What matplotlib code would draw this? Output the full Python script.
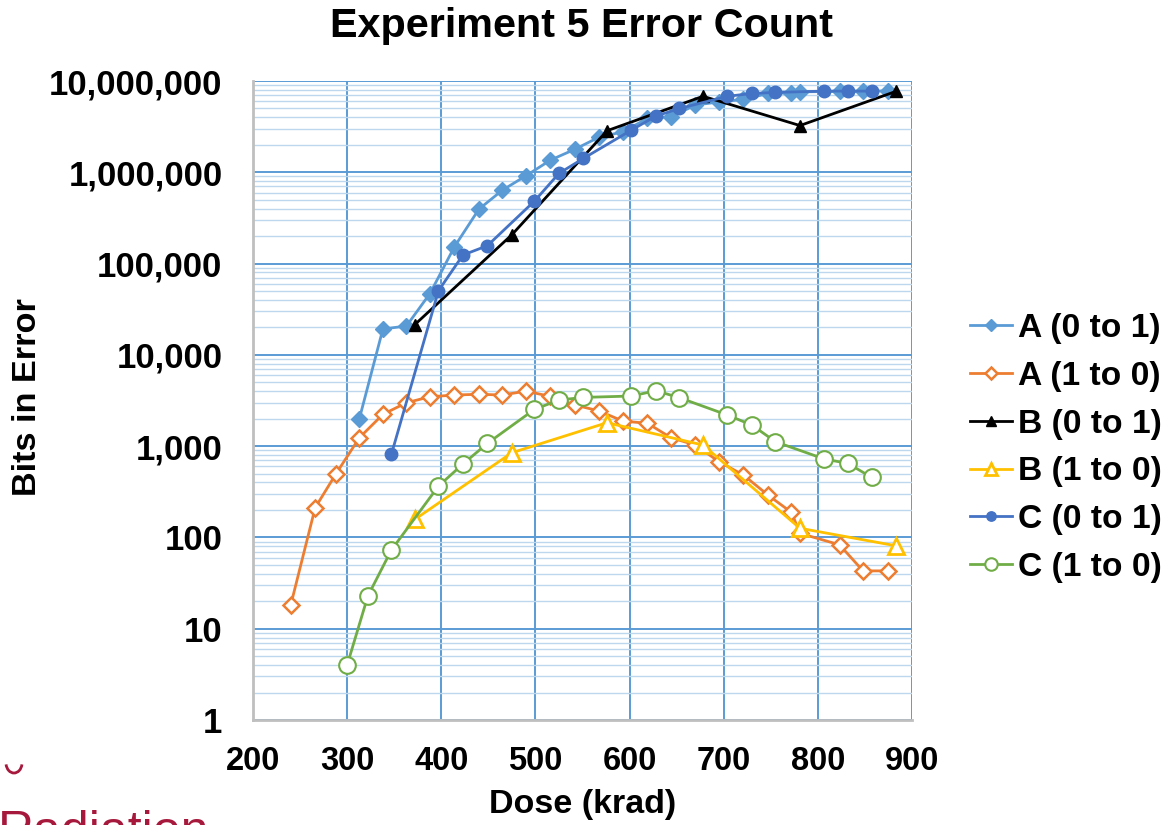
import matplotlib
matplotlib.use("Agg")
import matplotlib.pyplot as plt
from matplotlib.ticker import FixedLocator, LogLocator, NullFormatter
from matplotlib.patches import Arc

# ---------------- data ----------------
A_dose = [240, 266, 288, 313, 338, 363, 388, 414, 440, 465, 490, 516, 542,
          567, 593, 619, 644, 670, 695, 721, 747, 772, 781, 823, 848, 874]
A_01 = [2000, 19200, 20700, 47000, 153000, 395000, 638000, 916000, 1360000,
        1790000, 2410000, 2780000, 3890000, 4060000, 5450000, 5900000, 6280000,
        7300000, 7400000, 7600000, 7700000, 7700000, 7800000]   # from 313 krad
A_10 = [18, 211, 495, 1236, 2230, 2990, 3476, 3630, 3700, 3630, 4010, 3500,
        2820, 2440, 1880, 1780, 1236, 1028, 675, 482, 291, 188, 111, 83, 43, 43]

B_dose = [372, 475, 576, 678, 781, 883]
B_01 = [21500, 207000, 2850000, 6800000, 3250000, 7700000]
B_10 = [158, 847, 1806, 1028, 126, 81]

C_dose = [300, 322, 347, 397, 423, 449, 499, 525, 551, 602, 628, 653, 704,
          730, 755, 807, 832, 857]
C_01 = [813, 50400, 124000, 157000, 484000, 973000, 1420000, 2900000,
        4130000, 5000000, 6800000, 7300000, 7500000, 7750000, 7750000,
        7750000]   # from 347 krad
C_10 = [4, 22.8, 72.8, 365, 637, 1073, 2530, 3200, 3420, 3540, 4050, 3390,
        2190, 1700, 1117, 722, 647, 455]

series_labels = ["A (0 to 1)", "A (1 to 0)", "B (0 to 1)", "B (1 to 0)",
                 "C (0 to 1)", "C (1 to 0)"]
x_ticks = [200, 300, 400, 500, 600, 700, 800, 900]
x_tick_labels = ["200", "300", "400", "500", "600", "700", "800", "900"]
y_ticks = [1, 10, 100, 1000, 10000, 100000, 1000000, 10000000]
y_tick_labels = ["1", "10", "100", "1,000", "10,000", "100,000",
                 "1,000,000", "10,000,000"]

# ---------------- plot ----------------
plt.rcParams['font.family'] = ['Liberation Sans', 'DejaVu Sans']
plt.rcParams['font.weight'] = 'bold'

W, H = 1164, 825
fig = plt.figure(figsize=(W / 100, H / 100), dpi=100)
ax = fig.add_axes([253 / W, 1 - 720 / H, (912 - 253) / W, (720 - 81) / H])

lw = 2.0
ax.plot(A_dose[3:], A_01, color='#5B9BD5', lw=lw, marker='D', ms=8,
        mfc='#5B9BD5', mec='#5B9BD5', label=series_labels[0], zorder=3)
ax.plot(A_dose, A_10, color='#ED7D31', lw=lw, marker='D', ms=8,
        mfc='white', mec='#ED7D31', mew=1.8, label=series_labels[1], zorder=3)
ax.plot(B_dose, B_01, color='black', lw=lw, marker='^', ms=9,
        mfc='black', mec='black', label=series_labels[2], zorder=3)
ax.plot(B_dose, B_10, color='#FFC000', lw=lw, marker='^', ms=12,
        mfc='white', mec='#FFC000', mew=2.0, label=series_labels[3], zorder=3)
ax.plot(C_dose[2:], C_01, color='#4472C4', lw=lw, marker='o', ms=9,
        mfc='#4472C4', mec='#4472C4', label=series_labels[4], zorder=3)
ax.plot(C_dose, C_10, color='#70AD47', lw=lw, marker='o', ms=12,
        mfc='white', mec='#70AD47', mew=1.5, label=series_labels[5], zorder=3)

ax.set_yscale('log')
ax.set_xlim(200, 900)
ax.set_ylim(1, 10000000)
ax.xaxis.set_major_locator(FixedLocator(x_ticks))
ax.set_xticklabels(x_tick_labels)
ax.yaxis.set_major_locator(FixedLocator(y_ticks))
ax.set_yticklabels(y_tick_labels)
ax.yaxis.set_minor_locator(LogLocator(base=10, subs=range(2, 10), numticks=100))
ax.yaxis.set_minor_formatter(NullFormatter())

ax.grid(True, which='major', axis='both', color='#5B9BD5', lw=1.4, zorder=0)
ax.grid(True, which='minor', axis='y', color='#BDD7EE', lw=1.0, zorder=0)
ax.set_axisbelow(True)

for s in ['top', 'right']:
    ax.spines[s].set_visible(False)
for s in ['left', 'bottom']:
    ax.spines[s].set_color('#BFBFBF')
    ax.spines[s].set_linewidth(2)

ax.tick_params(axis='both', which='both', length=0)
ax.tick_params(axis='y', labelsize=25, pad=22)
ax.tick_params(axis='x', labelsize=23.5, pad=19)
for t in ax.get_xticklabels() + ax.get_yticklabels():
    t.set_fontweight('bold')

fig.text(583 / W, 1 - 805 / H, "Dose (krad)", fontsize=24.5,
         fontweight='bold', ha='center', va='center')
fig.text(28 / W, 1 - 397 / H, "Bits in Error", rotation=90, fontsize=24.7,
         fontweight='bold', ha='center', va='center')
fig.text(581 / W, 1 - 26 / H, "Experiment 5 Error Count", fontsize=29.8,
         fontweight='bold', ha='center', va='center')

leg = fig.legend(loc='center left', bbox_to_anchor=(957 / W, 1 - 448 / H),
                 frameon=False, fontsize=24.2, handlelength=1.25,
                 handletextpad=0.15, labelspacing=0.5, markerscale=0.75,
                 borderaxespad=0)
for t in leg.get_texts():
    t.set_fontweight('bold')

# slide remnants at bottom left
fig.text(-2 / W, 1 - 810 / H, "Radiation", fontsize=36, color='#A6193C',
         ha='left', va='top', fontweight='normal')
arc = Arc((14, 62), 16, 20, theta1=190, theta2=350, color='#A6193C', lw=2.0,
          transform=None)
fig.add_artist(arc)

fig.savefig("out.png", dpi=100)
